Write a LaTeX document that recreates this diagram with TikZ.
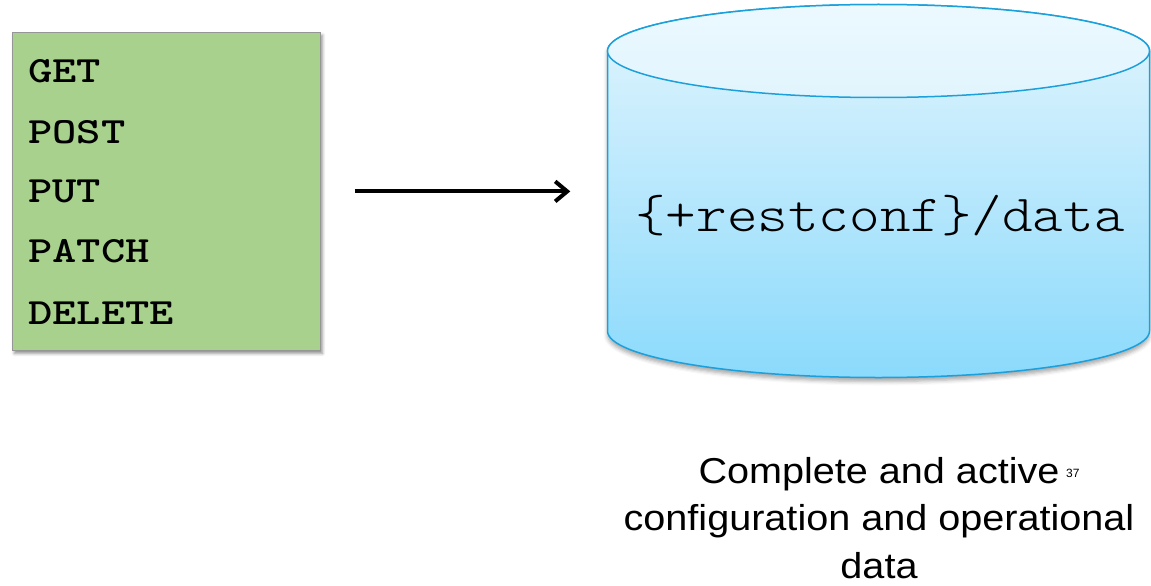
\documentclass[tikz,border=0pt]{standalone}
\usepackage{fontspec}
\setmainfont{Liberation Sans}
% Typewriter faces for the HTTP methods and the resource path
\newfontfamily\methodfont{lmmonolt10-bold.otf}[FakeStretch=1.25]
\newfontfamily\pathfont{lmmonolt10-regular.otf}[FakeStretch=1.12]
% Slightly widened sans for the caption
\newfontfamily\captionfont{Liberation Sans}[FakeStretch=1.1]
\usetikzlibrary{arrows.meta,shadows.blur}

\definecolor{boxgreen}{RGB}{169,209,142}
\definecolor{boxedge}{RGB}{150,150,150}
\definecolor{dbedge}{RGB}{28,160,219}
\definecolor{dbtop}{RGB}{227,245,253}
\definecolor{dbbottom}{RGB}{139,218,252}
\definecolor{lidtop}{RGB}{236,249,255}
\definecolor{lidbottom}{RGB}{225,244,253}

\tikzset{
  methodbox/.style={draw=boxedge, line width=0.8pt, fill=boxgreen,
    blur shadow={shadow xshift=2pt, shadow yshift=-3pt, shadow opacity=45, shadow blur radius=3pt}},
  method/.style={anchor=base west, inner sep=0pt, font=\methodfont\fontsize{37}{37}\selectfont},
  dbbody/.style={draw=dbedge, line width=1.5pt, top color=dbtop, bottom color=dbbottom,
    blur shadow={shadow xshift=0pt, shadow yshift=-4pt, shadow opacity=35, shadow blur radius=4pt}},
  dblid/.style={draw=dbedge, line width=1.5pt, top color=lidtop, bottom color=lidbottom},
  pathlabel/.style={anchor=base, inner sep=0pt, font=\pathfont\fontsize{52}{52}\selectfont},
  caption/.style={anchor=base, inner sep=0pt, font=\captionfont\fontsize{36}{46}\selectfont},
  slideno/.style={anchor=base west, inner sep=0pt, font=\fontsize{12}{12}\selectfont},
  flow/.style={line width=4pt, -{Straight Barb[length=12pt, width=20pt]}}
}

\begin{document}
\begin{tikzpicture}[x=1pt, y=-1pt]
\useasboundingbox (0,0) rectangle (1151,586);

% HTTP methods panel
\node[methodbox, anchor=north west, minimum width=308pt, minimum height=318pt, inner sep=0pt]
  (methods) at (12,32) {};
\node[method] (get)    at (28,82)  {GET};
\node[method] (post)   at (28,143) {POST};
\node[method] (put)    at (28,202) {PUT};
\node[method] (patch)  at (28,262) {PATCH};
\node[method] (delete) at (28,324) {DELETE};

% Datastore cylinder
\path[dbbody] (607.5,51) -- (607.5,331)
  arc[start angle=180, end angle=360, x radius=271pt, y radius=46.5pt]
  -- (1149.5,51)
  arc[start angle=0, end angle=180, x radius=271pt, y radius=46.5pt] -- cycle;
\path[dblid] (878.5,51) ellipse[x radius=271pt, y radius=46.5pt];
\node[inner sep=0pt, minimum width=542pt, minimum height=373pt] (db) at (878.5,191) {};
\node[pathlabel] (resource) at (880,231) {\{+restconf\}/data};

% Request arrow
\draw[flow, shorten <=34pt, shorten >=37pt] (methods.east) -- (methods.east -| db.west);

% Caption
\node[caption] (cap1) at (879,483) {Complete and active};
\node[caption] (cap2) at (879,530.5) {configuration and operational};
\node[caption] (cap3) at (879,578) {data};
\node[slideno] (page) at (1066,477) {37};
\end{tikzpicture}
\end{document}
